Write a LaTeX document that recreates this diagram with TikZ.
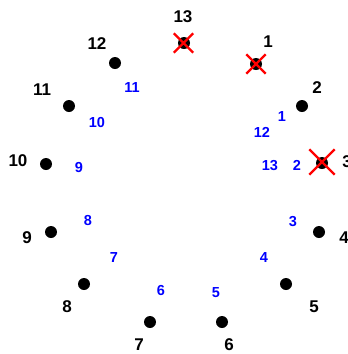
\documentclass[tikz,border=0pt]{standalone}
\usepackage{fontspec}
\setmainfont{Liberation Sans}
\usetikzlibrary{shapes.misc}
\begin{document}
\begin{tikzpicture}[x=1pt,y=-1pt,
  dot/.style={circle,fill=black,inner sep=0pt,minimum size=12pt},
  lab/.style={font=\fontsize{17}{18}\selectfont\bfseries,text=black,inner sep=0pt},
  blab/.style={font=\fontsize{14.5}{15}\selectfont\bfseries,text=blue,inner sep=0pt},
  xmark/.style={cross out,draw=red,line width=2.4pt,inner sep=0pt,minimum size=17pt}]
\useasboundingbox (0,0) rectangle (348,354);
% dots
\node[dot] (d13) at (184,43) {};
\node[dot] (d1) at (256,64) {};
\node[dot] (d2) at (302,106) {};
\node[dot] (d3) at (322,163) {};
\node[dot] (d4) at (319,232) {};
\node[dot] (d5) at (286,284) {};
\node[dot] (d6) at (222,322) {};
\node[dot] (d7) at (150,322) {};
\node[dot] (d8) at (84,284) {};
\node[dot] (d9) at (51,232) {};
\node[dot] (d10) at (46,164) {};
\node[dot] (d11) at (69,106) {};
\node[dot] (d12) at (115,63) {};
% crosses
\node[xmark] (x13) at (183.5,43) {};
\node[xmark] (x1) at (256,64) {};
\node[xmark,minimum size=23pt] (x3) at (322,162) {};
% black labels
\node[lab] (l13) at (183,17) {13};
\node[lab] (l1) at (268,42) {1};
\node[lab] (l2) at (317,88) {2};
\node[lab] (l3) at (347,162) {3};
\node[lab] (l4) at (344,238) {4};
\node[lab] (l5) at (314,307) {5};
\node[lab] (l6) at (229,345) {6};
\node[lab] (l7) at (139,345) {7};
\node[lab] (l8) at (67,307) {8};
\node[lab] (l9) at (27,238) {9};
\node[lab] (l10) at (18,161) {10};
\node[lab] (l11) at (42,90) {11};
\node[lab] (l12) at (97,44) {12};
% blue labels
\node[blab] (b1) at (282,117) {1};
\node[blab] (b2) at (297,165) {2};
\node[blab] (b3) at (293,222) {3};
\node[blab] (b4) at (264,258) {4};
\node[blab] (b5) at (216,293) {5};
\node[blab] (b6) at (161,291) {6};
\node[blab] (b7) at (114,258) {7};
\node[blab] (b8) at (88,221) {8};
\node[blab] (b9) at (79,168) {9};
\node[blab] (b10) at (97,123) {10};
\node[blab] (b11) at (132,88) {11};
\node[blab] (b12) at (262,132) {12};
\node[blab] (b13) at (270,166) {13};
\end{tikzpicture}
\end{document}
